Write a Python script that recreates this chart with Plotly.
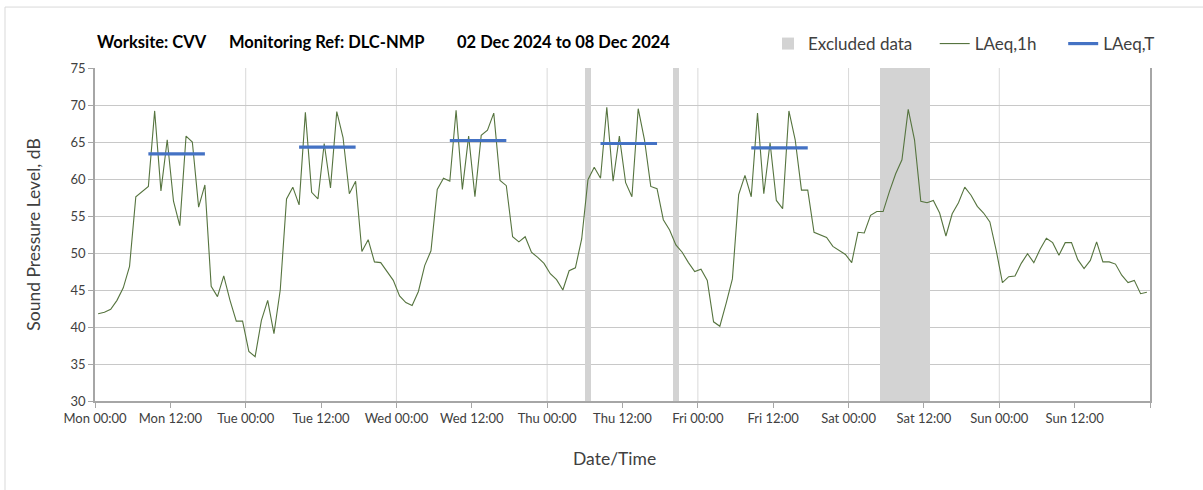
import pandas as pd
import plotly.graph_objects as go

# ---------------- data ----------------
start = pd.Timestamp("2024-12-02 00:00")

laeq_1h = [
    # Mon
    41.8, 42.0, 42.4, 43.6, 45.3, 48.2, 57.6, 58.3, 59.0, 69.2, 58.4, 65.3,
    57.0, 53.7, 65.8, 65.0, 56.2, 59.2, 45.5, 44.1, 46.9, 43.6, 40.8, 40.8,
    # Tue
    36.7, 36.0, 40.9, 43.6, 39.1, 45.0, 57.3, 58.9, 56.5, 69.0, 58.2, 57.3,
    64.8, 58.8, 69.1, 65.6, 58.0, 59.7, 50.2, 51.8, 48.8, 48.7, 47.5, 46.3,
    # Wed
    44.2, 43.3, 42.9, 44.8, 48.3, 50.3, 58.6, 60.1, 59.7, 69.3, 58.6, 65.8,
    57.6, 65.9, 66.6, 68.9, 59.8, 59.1, 52.2, 51.5, 52.2, 50.1, 49.4, 48.6,
    # Thu
    47.2, 46.4, 45.0, 47.6, 48.0, 51.9, 59.9, 61.6, 60.1, 69.7, 59.7, 65.8,
    59.5, 57.6, 69.5, 65.3, 59.0, 58.7, 54.5, 53.1, 51.1, 50.1, 48.7, 47.5,
    # Fri
    47.8, 46.3, 40.7, 40.1, 43.2, 46.5, 57.9, 60.5, 57.6, 68.9, 58.0, 64.9,
    57.1, 56.0, 69.2, 65.3, 58.5, 58.5, 52.8, 52.5, 52.1, 50.9, 50.3, 49.8,
    # Sat
    48.7, 52.8, 52.7, 55.1, 55.6, 55.6, 58.3, 60.7, 62.6, 69.4, 65.3, 57.0,
    56.8, 57.1, 55.4, 52.3, 55.3, 56.8, 58.9, 57.8, 56.3, 55.4, 54.2, 50.4,
    # Sun
    46.0, 46.8, 46.9, 48.6, 49.9, 48.7, 50.5, 52.0, 51.4, 49.7, 51.4, 51.4,
    49.1, 47.9, 49.0, 51.5, 48.8, 48.8, 48.5, 47.0, 46.0, 46.3, 44.5, 44.7,
]

excluded_hours = [78, 92, 125, 126, 127, 128, 129, 130, 131, 132]

laeqT_days = [0, 1, 2, 3, 4]
laeqT_values = [63.4, 64.3, 65.2, 64.8, 64.2]
laeqT_first_hour = 8
laeqT_last_hour = 17

tick_hours = list(range(0, 169, 12))
tick_labels = [
    "Mon 00:00", "Mon 12:00", "Tue 00:00", "Tue 12:00", "Wed 00:00", "Wed 12:00",
    "Thu 00:00", "Thu 12:00", "Fri 00:00", "Fri 12:00", "Sat 00:00", "Sat 12:00",
    "Sun 00:00", "Sun 12:00", "",
]
grid_days = [1, 2, 3, 4, 5, 6]

y_min, y_max, y_step = 30, 75, 5

# ---------------- derived ----------------
hour = pd.Timedelta(hours=1)
times = [start + (h + 0.5) * hour for h in range(len(laeq_1h))]

ex_x = [start + (h + 0.5) * hour for h in excluded_hours]
ex_y = [y_max - y_min] * len(excluded_hours)

lt_x, lt_y = [], []
for d, v in zip(laeqT_days, laeqT_values):
    lt_x += [start + (24 * d + laeqT_first_hour + 0.5) * hour,
             start + (24 * d + laeqT_last_hour + 0.5) * hour, None]
    lt_y += [v, v, None]

FONT = "Lato"
TXT = "#404040"
AX = "#a6a6a6"
NB = "\u00a0"  # legend spacing

fig = go.Figure()
fig.add_trace(go.Bar(
    x=ex_x, y=ex_y, base=y_min, width=3600000,
    marker=dict(color="#d3d3d3", line=dict(width=0)),
    name="Excluded data" + NB * 4,
))
fig.add_trace(go.Scatter(
    x=times, y=laeq_1h, mode="lines",
    line=dict(color="#56743f", width=1.1),
    name="LAeq,1h" + NB * 5,
))
fig.add_trace(go.Scatter(
    x=lt_x, y=lt_y, mode="lines",
    line=dict(color="#4472c4", width=3.2),
    name="LAeq,T",
))

shapes = []
for d in grid_days:
    xd = start + pd.Timedelta(days=d)
    shapes.append(dict(type="line", xref="x", yref="paper", x0=xd, x1=xd,
                       y0=0, y1=1, layer="below",
                       line=dict(color="#d9d9d9", width=1)))
# outer chart frame
shapes.append(dict(type="rect", xref="paper", yref="paper",
                   x0=-0.0853, x1=1.06, y0=-0.3, y1=1.183,
                   line=dict(color="#d9d9d9", width=1), layer="below"))

annotations = [
    dict(text="<b>Worksite: CVV</b>", x=0.0, y=1.078),
    dict(text="<b>Monitoring Ref: DLC-NMP</b>", x=0.125, y=1.078),
    dict(text="<b>02 Dec 2024 to 08 Dec 2024</b>", x=0.341, y=1.078),
]
for a in annotations:
    a.update(xref="paper", yref="paper", xanchor="left", yanchor="middle",
             showarrow=False, font=dict(family=FONT, size=16.5, color="#000000"))
# x-axis title (centred on the chart area, as in the original)
annotations.append(dict(text="Date/Time", xref="paper", yref="paper",
                        x=0.492, y=-0.174, xanchor="center", yanchor="middle",
                        showarrow=False,
                        font=dict(family=FONT, size=17.5, color=TXT)))

fig.update_layout(
    width=1203, height=490, autosize=False,
    margin=dict(l=95, r=53, t=68, b=89),
    paper_bgcolor="white", plot_bgcolor="white",
    font=dict(family=FONT, color=TXT),
    barmode="overlay", bargap=0,
    showlegend=True,
    legend=dict(orientation="h", x=1.0095, xanchor="right", y=1.072, yanchor="middle",
                font=dict(family=FONT, size=17, color=TXT),
                bgcolor="rgba(0,0,0,0)", traceorder="normal"),
    shapes=shapes,
    annotations=annotations,
)

fig.update_xaxes(
    type="date",
    range=[start, start + pd.Timedelta(days=7)],
    tickmode="array",
    tickvals=[start + h * hour for h in tick_hours],
    ticktext=tick_labels,
    ticks="outside", ticklen=5, tickcolor=AX,
    showgrid=False, zeroline=False,
    showline=True, linecolor=AX, linewidth=1.5,
    tickfont=dict(family=FONT, size=13, color=TXT),
)
fig.update_yaxes(
    range=[y_min, y_max], dtick=y_step, tick0=y_min,
    ticks="outside", ticklen=5, tickcolor=AX,
    showgrid=True, gridcolor="#c8c8c8", gridwidth=1,
    zeroline=False,
    showline=True, linecolor=AX, linewidth=1.5, mirror=True,
    tickfont=dict(family=FONT, size=13, color=TXT),
    title=dict(text="Sound Pressure Level, dB", font=dict(family=FONT, size=17.5, color=TXT), standoff=25),
)

fig.write_html("out.html", config={"displayModeBar": False},
               post_script="document.body.style.margin='0px';")
